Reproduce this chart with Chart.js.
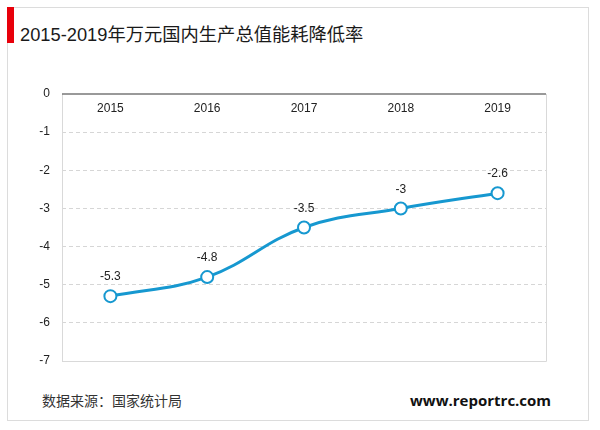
<!DOCTYPE html>
<html>
<head>
<meta charset="utf-8">
<script src="https://cdn.jsdelivr.net/npm/chart.js@4"></script>
<style>
  html, body { margin: 0; padding: 0; background: #fff; }
  body { width: 600px; height: 430px; position: relative; overflow: hidden;
         font-family: "Liberation Sans", Arial, "Noto Sans CJK SC", sans-serif; }
  .frame { position: absolute; left: 7px; top: 7px; width: 580px; height: 412px;
           border: 1px solid #dcdcdc; }
  .redbar { position: absolute; left: 7px; top: 7px; width: 7px; height: 36px; background: #e8000b; }
  .title { position: absolute; left: 20px; top: 20px; font-size: 18.3px; color: #1a1a1a;
           font-family: "Liberation Sans", "Noto Sans CJK SC", sans-serif; white-space: nowrap; }
  .source { position: absolute; left: 42px; top: 391px; font-size: 14px; color: #333;
            font-family: "Noto Sans CJK SC", sans-serif; line-height: 18px; }
  .site { position: absolute; left: 410px; top: 391px; font-size: 15px; font-weight: bold; color: #111;
          font-family: "Open Sans", sans-serif; line-height: 18px; }
  canvas { position: absolute; left: 0; top: 0; }
</style>
</head>
<body>
<div class="frame"></div>
<div class="redbar"></div>
<div class="title">2015-2019年万元国内生产总值能耗降低率</div>
<div class="source">数据来源：国家统计局</div>
<div class="site">www.reportrc.com</div>
<canvas id="chart" width="600" height="430"></canvas>
<script>
// data
const years = ["2015", "2016", "2017", "2018", "2019"];
const rates = [-5.3, -4.8, -3.5, -3, -2.6];
const yTicks = [0, -1, -2, -3, -4, -5, -6, -7];

// category labels under the zero line, point labels, plot frame
const extras = {
  id: "extras",
  afterDatasetsDraw(chart) {
    const { ctx, chartArea, scales } = chart;
    const x = scales.x, y = scales.y;
    ctx.save();
    ctx.strokeStyle = "#d9d9d9";
    ctx.lineWidth = 1;
    ctx.beginPath();
    ctx.moveTo(chartArea.left + 0.5, chartArea.top);
    ctx.lineTo(chartArea.left + 0.5, chartArea.bottom + 0.5);
    ctx.lineTo(chartArea.right + 0.5, chartArea.bottom + 0.5);
    ctx.lineTo(chartArea.right + 0.5, chartArea.top);
    ctx.stroke();
    ctx.strokeStyle = "#777";
    ctx.lineWidth = 1.5;
    ctx.beginPath();
    ctx.moveTo(chartArea.left, y.getPixelForValue(0));
    ctx.lineTo(chartArea.right, y.getPixelForValue(0));
    ctx.stroke();

    ctx.fillStyle = "#222";
    ctx.font = "12px 'Liberation Sans', Arial, sans-serif";
    ctx.textAlign = "center";
    ctx.textBaseline = "middle";
    years.forEach((yr, i) => {
      ctx.fillText(yr, x.getPixelForValue(i), y.getPixelForValue(0) + 15);
    });
    const meta = chart.getDatasetMeta(0);
    meta.data.forEach((pt, i) => {
      ctx.fillText(String(rates[i]), pt.x, pt.y - 19);
    });
    ctx.restore();
  }
};

new Chart(document.getElementById("chart"), {
  type: "line",
  data: {
    labels: years,
    datasets: [{
      data: rates,
      borderColor: "#1698d0",
      borderWidth: 3,
      tension: 0.4,
      pointRadius: 6,
      pointHoverRadius: 6,
      pointBackgroundColor: "#fff",
      pointBorderColor: "#1698d0",
      pointBorderWidth: 2
    }]
  },
  options: {
    responsive: false,
    animation: false,
    layout: { padding: { top: 94, right: 54, bottom: 69, left: 0 } },
    plugins: { legend: { display: false }, tooltip: { enabled: false } },
    scales: {
      x: {
        position: "top",
        offset: true,
        grid: { display: false, drawTicks: false },
        border: { display: false },
        ticks: { display: false },
        afterFit: (s) => { s.height = 0; }
      },
      y: {
        min: -7,
        max: 0,
        afterBuildTicks: (s) => { s.ticks = yTicks.map(v => ({ value: v })); },
        afterFit: (s) => { s.width = 62; },
        grid: { color: (c) => c.tick && c.tick.value === 0 ? "rgba(0,0,0,0)" : "#d6d6d6", drawTicks: false },
        border: { display: false, dash: [4, 3] },
        ticks: {
          padding: 12,
          color: "#222",
          font: { size: 12, family: "'Liberation Sans', Arial, sans-serif" }
        }
      }
    }
  },
  plugins: [extras]
});
</script>
</body>
</html>
